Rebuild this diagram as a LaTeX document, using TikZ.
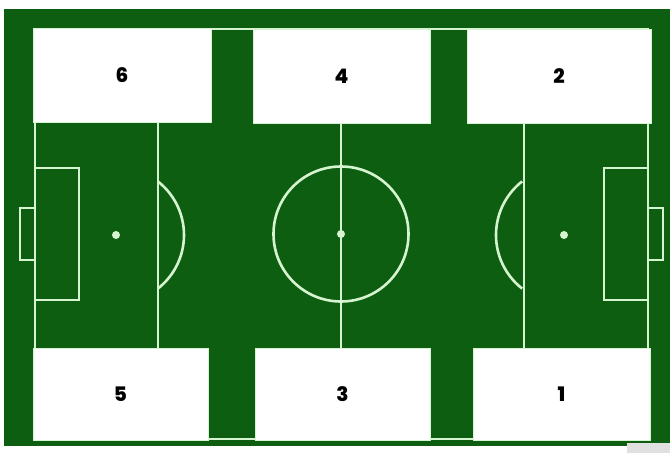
\documentclass[tikz,border=0pt]{standalone}
\usepackage{fontspec}
\newfontfamily\numfont{Poppins}[BoldFont={Poppins ExtraBold}]
\definecolor{pitchgreen}{RGB}{14,94,18}
\definecolor{chalk}{RGB}{214,244,208}
\begin{document}
\begin{tikzpicture}[x=1pt,y=-1pt,
  pline/.style={chalk,line width=2.6pt},
  zone/.style={fill=white,draw=chalk,line width=1pt,inner sep=0pt,font=\numfont\bfseries\fontsize{20}{21}\selectfont},
  spot/.style={fill=chalk}]
\path[use as bounding box,fill=white] (0,0) rectangle (670,453);
\fill[pitchgreen] (4,9) rectangle (670,446);
\draw[pline] (35,29) rectangle (648,439);
\draw[pline] (158,29)--(158,439) (341,29)--(341,439) (524,29)--(524,439);
\draw[pline] (35,168) rectangle (79,300);
\draw[pline] (35,208)--(20,208)--(20,260)--(35,260);
\draw[pline] (604,168) rectangle (648,300);
\draw[pline] (648,208)--(663,208)--(663,260)--(648,260);
\draw[pline] (341,234) circle[radius=67.5];
\draw[pline] (116,235) ++(-52:68) arc[start angle=-52,end angle=52,radius=68];
\draw[pline] (564,235) ++(128:68) arc[start angle=128,end angle=232,radius=68];
\fill[spot] (116,235) circle[radius=4];
\fill[spot] (341,234) circle[radius=4];
\fill[spot] (564,235) circle[radius=4];
\node[zone,minimum width=178pt,minimum height=94pt] (box6) at (122,75.5) {6};
\node[zone,minimum width=177pt,minimum height=94pt] (box4) at (341.5,76) {4};
\node[zone,minimum width=184pt,minimum height=94pt] (box2) at (559,76) {2};
\node[zone,minimum width=175pt,minimum height=92pt] (box5) at (120.5,394) {5};
\node[zone,minimum width=175pt,minimum height=92pt] (box3) at (342.5,394) {3};
\node[zone,minimum width=177pt,minimum height=92pt] (box1) at (561.5,394) {1};
\fill[black!12] (627,443) rectangle (670,453);
\end{tikzpicture}
\end{document}
